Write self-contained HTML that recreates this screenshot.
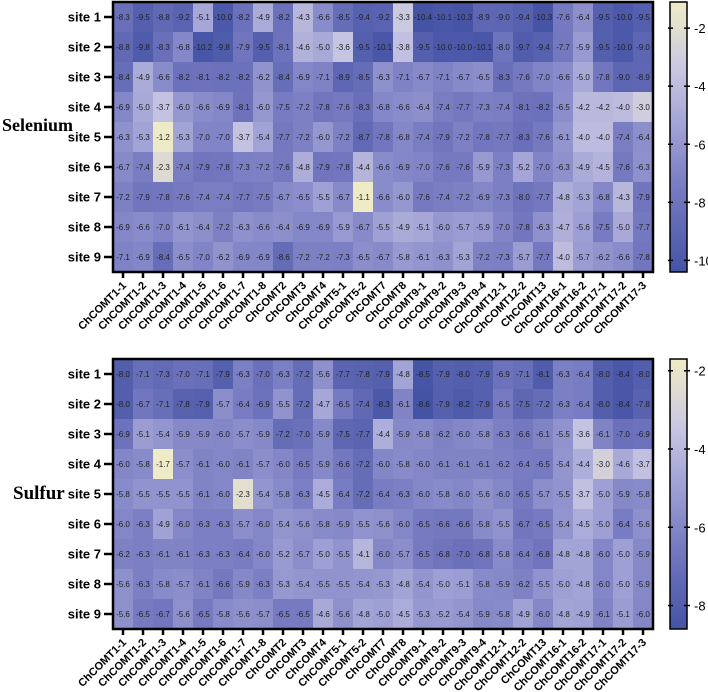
<!DOCTYPE html>
<html><head><meta charset="utf-8"><style>
html,body{margin:0;padding:0;background:#fff;}
svg{display:block;font-family:"Liberation Sans",Arial,sans-serif;}
</style></head><body>
<svg id="chart" width="708" height="692" viewBox="0 0 708 692" xmlns="http://www.w3.org/2000/svg"></svg>
<script>
const genes = ["ChCOMT1-1","ChCOMT1-2","ChCOMT1-3","ChCOMT1-4","ChCOMT1-5","ChCOMT1-6","ChCOMT1-7","ChCOMT1-8","ChCOMT2","ChCOMT3","ChCOMT4","ChCOMT5-1","ChCOMT5-2","ChCOMT7","ChCOMT8","ChCOMT9-1","ChCOMT9-2","ChCOMT9-3","ChCOMT9-4","ChCOMT12-1","ChCOMT12-2","ChCOMT13","ChCOMT16-1","ChCOMT16-2","ChCOMT17-1","ChCOMT17-2","ChCOMT17-3"];
const sites = ["site 1","site 2","site 3","site 4","site 5","site 6","site 7","site 8","site 9"];
const seleniumValues = [
[-8.3,-9.5,-8.8,-9.2,-5.1,-10.0,-8.2,-4.9,-8.2,-4.3,-6.6,-8.5,-9.4,-9.2,-3.3,-10.4,-10.1,-10.3,-8.9,-9.0,-9.4,-10.3,-7.6,-6.4,-9.5,-10.0,-9.5],
[-8.8,-9.8,-8.3,-6.8,-10.2,-9.8,-7.9,-9.5,-8.1,-4.6,-5.0,-3.6,-9.5,-10.1,-3.8,-9.5,-10.0,-10.0,-10.1,-8.0,-9.7,-9.4,-7.7,-5.9,-9.5,-10.0,-9.0],
[-8.4,-4.9,-6.6,-8.2,-8.1,-8.2,-8.2,-6.2,-8.4,-6.9,-7.1,-8.9,-8.5,-6.3,-7.1,-6.7,-7.1,-6.7,-6.5,-8.3,-7.6,-7.0,-6.6,-5.0,-7.8,-9.0,-8.9],
[-6.9,-5.0,-3.7,-6.0,-6.6,-6.9,-8.1,-6.0,-7.5,-7.2,-7.8,-7.6,-8.3,-6.8,-6.6,-6.4,-7.4,-7.7,-7.3,-7.4,-8.1,-8.2,-6.5,-4.2,-4.2,-4.0,-3.0],
[-6.3,-5.3,-1.2,-5.3,-7.0,-7.0,-3.7,-5.4,-7.7,-7.2,-6.0,-7.2,-8.7,-7.8,-6.8,-7.4,-7.9,-7.2,-7.8,-7.7,-8.3,-7.6,-6.1,-4.0,-4.0,-7.4,-6.4],
[-6.7,-7.4,-2.3,-7.4,-7.9,-7.8,-7.3,-7.2,-7.6,-4.8,-7.9,-7.8,-4.4,-6.6,-6.9,-7.0,-7.6,-7.6,-5.9,-7.3,-5.2,-7.0,-6.3,-4.9,-4.5,-7.6,-6.3],
[-7.2,-7.9,-7.8,-7.6,-7.4,-7.4,-7.7,-7.5,-6.7,-6.5,-5.5,-6.7,-1.1,-6.6,-6.0,-7.6,-7.4,-7.2,-6.9,-7.3,-8.0,-7.7,-4.8,-5.3,-6.8,-4.3,-7.9],
[-6.9,-6.6,-7.0,-6.1,-6.4,-7.2,-6.3,-6.6,-6.4,-6.9,-6.9,-5.9,-6.7,-5.5,-4.9,-5.1,-6.0,-5.7,-5.9,-7.0,-7.8,-6.3,-4.7,-5.6,-7.5,-5.0,-7.7],
[-7.1,-6.9,-8.4,-6.5,-7.0,-6.2,-6.9,-6.9,-8.6,-7.2,-7.2,-7.3,-6.5,-6.7,-5.8,-6.1,-6.3,-5.3,-7.2,-7.3,-5.7,-7.7,-4.0,-5.7,-6.2,-6.6,-7.8]];
const sulfurValues = [
[-8.0,-7.1,-7.3,-7.0,-7.1,-7.9,-6.3,-7.0,-6.3,-7.2,-5.6,-7.7,-7.8,-7.9,-4.8,-8.5,-7.9,-8.0,-7.9,-6.9,-7.1,-8.1,-6.3,-6.4,-8.0,-8.4,-8.0],
[-8.0,-6.7,-7.1,-7.8,-7.9,-5.7,-6.4,-6.9,-5.5,-7.2,-4.7,-6.5,-7.4,-8.3,-6.1,-8.6,-7.9,-8.2,-7.9,-6.5,-7.5,-7.2,-6.3,-6.4,-8.0,-8.4,-7.8],
[-6.9,-5.1,-5.4,-5.9,-5.9,-6.0,-5.7,-5.9,-7.2,-7.0,-5.9,-7.5,-7.7,-4.4,-5.9,-5.8,-6.2,-6.0,-5.8,-6.3,-6.6,-6.1,-5.5,-3.6,-6.1,-7.0,-6.9],
[-6.0,-5.8,-1.7,-5.7,-6.1,-6.0,-6.1,-5.7,-6.0,-6.5,-5.9,-6.6,-7.2,-6.0,-5.8,-6.0,-6.1,-6.1,-6.1,-6.2,-6.4,-6.5,-5.4,-4.4,-3.0,-4.6,-3.7],
[-5.8,-5.5,-5.5,-5.5,-6.1,-6.0,-2.3,-5.4,-5.8,-6.3,-4.5,-6.4,-7.2,-6.4,-6.3,-6.0,-5.8,-6.0,-5.6,-6.0,-6.5,-5.7,-5.5,-3.7,-5.0,-5.9,-5.8],
[-6.0,-6.3,-4.9,-6.0,-6.3,-6.3,-5.7,-6.0,-5.4,-5.6,-5.8,-5.9,-5.5,-5.6,-6.0,-6.5,-6.6,-6.6,-5.8,-5.5,-6.7,-6.5,-5.4,-4.5,-5.0,-6.4,-5.6],
[-6.2,-6.3,-6.1,-6.1,-6.3,-6.3,-6.4,-6.0,-5.2,-5.7,-5.0,-5.5,-4.1,-6.0,-5.7,-6.5,-6.8,-7.0,-6.8,-5.8,-6.4,-6.8,-4.8,-4.8,-6.0,-5.0,-5.9],
[-5.6,-6.3,-5.8,-5.7,-6.1,-6.6,-5.9,-6.3,-5.3,-5.4,-5.5,-5.5,-5.4,-5.3,-4.8,-5.4,-5.0,-5.1,-5.8,-5.9,-6.2,-5.5,-5.0,-4.8,-6.0,-5.0,-5.9],
[-5.6,-6.5,-6.7,-5.6,-6.5,-5.8,-5.6,-5.7,-6.5,-6.5,-4.6,-5.6,-4.8,-5.0,-4.5,-5.3,-5.2,-5.4,-5.9,-5.8,-4.9,-6.0,-4.8,-4.9,-6.1,-5.1,-6.0]];
const seleniumTicks = [-2,-4,-6,-8,-10];
const sulfurTicks = [-2,-4,-6,-8];

const NS="http://www.w3.org/2000/svg";
const svg=document.getElementById('chart');
function mk(tag,attrs,parent){const e=document.createElementNS(NS,tag);for(const k in attrs)e.setAttribute(k,attrs[k]);(parent||svg).appendChild(e);return e;}
const stops=[[0,[69,83,165]],[0.3,[117,121,192]],[0.55,[163,164,214]],[0.75,[201,199,226]],[0.88,[222,219,210]],[1,[239,235,198]]];
function cmap(t){t=Math.max(0,Math.min(1,t));for(let i=1;i<stops.length;i++){if(t<=stops[i][0]){const a=stops[i-1],b=stops[i];const f=(t-a[0])/(b[0]-a[0]);const c=a[1].map((v,j)=>Math.round(v+(b[1][j]-v)*f));return `rgb(${c[0]},${c[1]},${c[2]})`;}}return 'rgb(239,235,198)';}

function panel(name,title,data,ticks,top,vmin,vmax,titleX,titleY,titleSize){
  const left=113,cw=20,rh=30,nC=genes.length,nR=sites.length;
  const W=cw*nC,H=rh*nR;
  const xScale=i=>left+i*cw;
  const yScale=j=>top+j*rh;
  const g=mk('g',{});
  
  
  data.forEach((row,j)=>row.forEach((v,i)=>{
    const r=mk('rect',{x:xScale(i),y:yScale(j),width:cw+0.5,height:rh+0.5,fill:cmap((v-vmin)/(vmax-vmin))},g);
    
    
    const t=mk('text',{x:xScale(i)+cw/2,y:yScale(j)+rh/2+3,'text-anchor':'middle','font-size':'8',fill:'#222'},g);
    
    
    t.textContent=v.toFixed(1);
  }));
  const fr=mk('rect',{x:left,y:top,width:W,height:H,fill:'none',stroke:'#000','stroke-width':2.5},g);
  
  
  sites.forEach((s,j)=>{
    const cy=yScale(j)+rh/2;
    mk('line',{x1:left-9,x2:left,y1:cy,y2:cy,stroke:'#000','stroke-width':2.5},g);
    const t=mk('text',{x:left-12,y:cy+4.5,'text-anchor':'end','font-size':'13','font-weight':'bold'},g);
    
    
    t.textContent=s;
  });
  genes.forEach((gn,i)=>{
    const cx=xScale(i)+cw/2,by=top+H;
    mk('line',{x1:cx,x2:cx,y1:by,y2:by+6,stroke:'#000','stroke-width':2.5},g);
    const t=mk('text',{x:cx+4,y:by+14,'text-anchor':'end','font-size':'11','font-weight':'bold',transform:`rotate(-45 ${cx+4} ${by+14})`},g);
    
    
    t.textContent=gn;
  });
  const tt=mk('text',{x:titleX,y:titleY,'font-size':titleSize,'font-weight':'bold','font-family':'"Liberation Serif",serif'},g);
  
  
  tt.textContent=title;
  const cbx=670,cbw=17;
  const cbY=v=>top+(vmax-v)/(vmax-vmin)*H;
  const gid='grad-'+name;
  const defs=mk('defs',{},g);
  const lg=mk('linearGradient',{id:gid,x1:0,y1:0,x2:0,y2:1},defs);
  for(let k=0;k<=20;k++){mk('stop',{offset:(k/20),'stop-color':cmap(1-k/20)},lg);}
  const cb=mk('rect',{x:cbx,y:top,width:cbw,height:H,fill:`url(#${gid})`,stroke:'#000','stroke-width':1.5},g);
  
  
  ticks.forEach(tv=>{
    const y=cbY(tv);
    mk('line',{x1:cbx-2,x2:cbx+3,y1:y,y2:y,stroke:'#000','stroke-width':1.5},g);
    mk('line',{x1:cbx+cbw-3,x2:cbx+cbw+3,y1:y,y2:y,stroke:'#000','stroke-width':1.5},g);
    const t=mk('text',{x:cbx+cbw+7,y:y+5,'font-size':'13'},g);
    
    
    t.textContent=String(tv);
  });
}
panel('selenium','Selenium',seleniumValues,seleniumTicks,2,-10.4,-1.1,2,131,'18');
panel('sulfur','Sulfur',sulfurValues,sulfurTicks,359,-8.6,-1.7,13,499,'19');
</script>
</body></html>
